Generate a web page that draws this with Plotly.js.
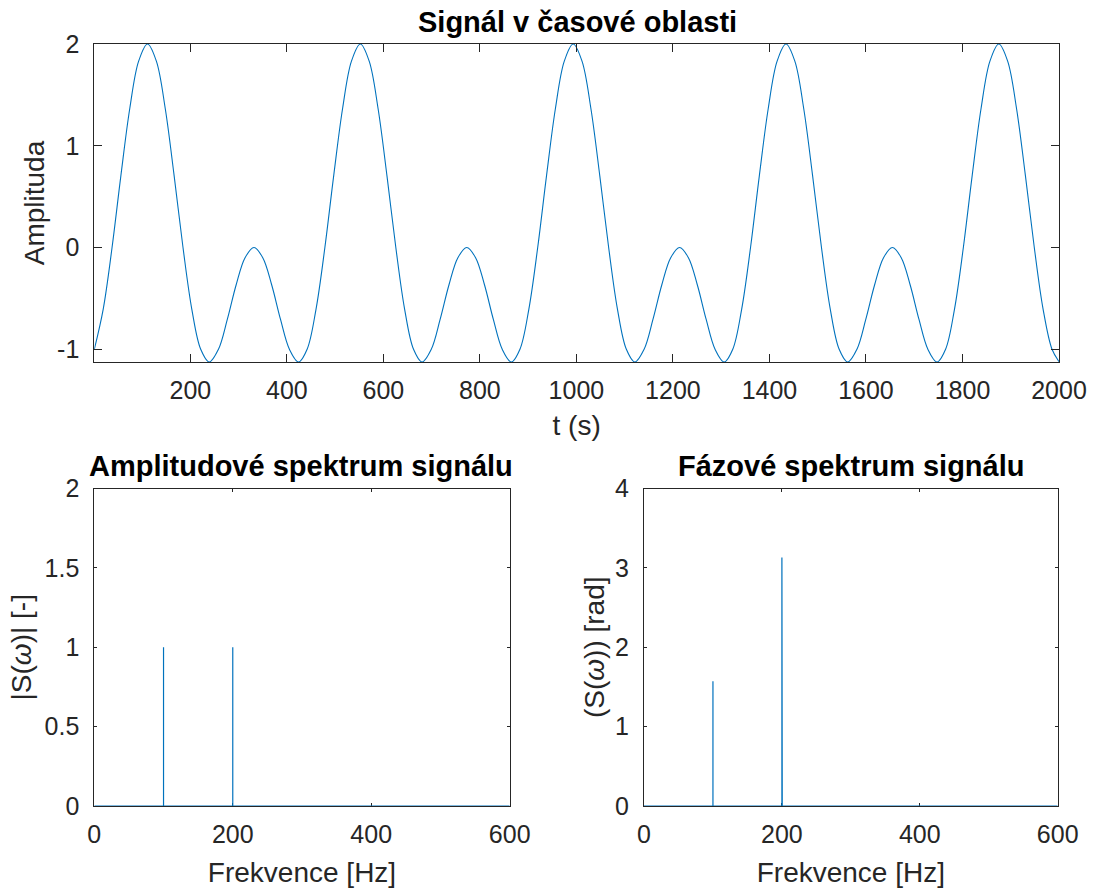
<!DOCTYPE html>
<html>
<head>
<meta charset="utf-8">
<script src="https://cdn.plot.ly/plotly-3.0.1.min.js"></script>
<style>
  html, body { margin: 0; padding: 0; background: #ffffff; }
  #chart { width: 1094px; height: 888px; }
</style>
</head>
<body>
<div id="chart"></div>
<script>
// ---- Time-domain signal (sample index t, amplitude) ----
const timeT = [
  1, 19.4, 37.8, 56.1, 74.5, 92.9, 111.3, 129.6, 148, 166.4, 184.8, 203.1, 221.5, 239.2, 258.3, 276.6, 295, 313.4, 331.8, 350.1, 368.5, 386.9, 405.3, 424.3,
  442, 460.4, 478.8, 497.1, 515.5, 533.9, 552.3, 570.6, 589, 607.4, 625.8, 644.1, 662.5, 680.2, 699.3, 717.6, 736, 754.4, 772.8, 791.1, 809.5, 827.9, 846.3, 865.3,
  883, 901.4, 919.8, 938.1, 956.5, 974.9, 993.3, 1011.6, 1030, 1048.4, 1066.8, 1085.1, 1103.5, 1121.2, 1140.3, 1158.6, 1177, 1195.4, 1213.8, 1232.1, 1250.5, 1268.9, 1287.3, 1306.3,
  1324, 1342.4, 1360.8, 1379.1, 1397.5, 1415.9, 1434.3, 1452.6, 1471, 1489.4, 1507.8, 1526.1, 1544.5, 1562.2, 1581.3, 1599.6, 1618, 1636.4, 1654.8, 1673.1, 1691.5, 1709.9, 1728.3, 1747.3,
  1765, 1783.4, 1801.8, 1820.1, 1838.5, 1856.9, 1875.3, 1893.6, 1912, 1930.4, 1948.8, 1967.1, 1985.5, 2000
];
const amplitude = [
  -1, -0.607, 0, 0.707, 1.366, 1.832, 2, 1.832, 1.366, 0.707, 0, -0.607, -1, -1.125, -1, -0.707, -0.366, -0.1, 0, -0.1, -0.366, -0.707, -1, -1.125,
  -1, -0.607, 0, 0.707, 1.366, 1.832, 2, 1.832, 1.366, 0.707, 0, -0.607, -1, -1.125, -1, -0.707, -0.366, -0.1, 0, -0.1, -0.366, -0.707, -1, -1.125,
  -1, -0.607, 0, 0.707, 1.366, 1.832, 2, 1.832, 1.366, 0.707, 0, -0.607, -1, -1.125, -1, -0.707, -0.366, -0.1, 0, -0.1, -0.366, -0.707, -1, -1.125,
  -1, -0.607, 0, 0.707, 1.366, 1.832, 2, 1.832, 1.366, 0.707, 0, -0.607, -1, -1.125, -1, -0.707, -0.366, -0.1, 0, -0.1, -0.366, -0.707, -1, -1.125,
  -1, -0.607, 0, 0.707, 1.366, 1.832, 2, 1.832, 1.366, 0.707, 0, -0.607, -1, -1.121
];

// ---- Amplitude spectrum ----
const ampFreq = [0, 100, 100, 100, 200, 200, 200, 600];
const ampMag  = [0, 0, 1, 0, 0, 1, 0, 0];

// ---- Phase spectrum ----
const phFreq  = [0, 100, 100, 100, 200, 200, 200, 200.5, 200.5, 600];
const phAngle = [0, 0, 1.571, 0, 0, 3.13, 3.13, 3.13, 0, 0];

// ---- Tick labels ----
const timeTicks = [200, 400, 600, 800, 1000, 1200, 1400, 1600, 1800, 2000];
const ampTicksTop = [-1, 0, 1, 2];
const ampTickTextTop = ['-1', '0', '1', '2'];
const freqTicks = [0, 200, 400, 600];
const magTicks = [0, 0.5, 1, 1.5, 2];
const magTickText = ['0', '0.5', '1', '1.5', '2'];
const phaseTicks = [0, 1, 2, 3, 4];

const LINE = '#0072BD';
const AX = '#262626';
const FONT = 'Liberation Sans, Arial, Helvetica, sans-serif';
const TICK_SIZE = 25;
const LABEL_SIZE = 28;
const TITLE_SIZE = 29;

function axisBase(extra) {
  return Object.assign({
    showline: true, linecolor: AX, linewidth: 1, mirror: 'ticks',
    ticks: 'inside', tickcolor: AX, tickwidth: 1,
    showgrid: false, zeroline: false,
    tickfont: { family: FONT, size: TICK_SIZE, color: AX },
    fixedrange: true
  }, extra);
}
function ttl(text, standoff) {
  return { text: text, font: { family: FONT, size: LABEL_SIZE, color: AX }, standoff: standoff };
}

const traces = [
  { x: timeT, y: amplitude, type: 'scatter', mode: 'lines',
    line: { color: LINE, width: 1.1, shape: 'spline', smoothing: 1 },
    xaxis: 'x', yaxis: 'y', hoverinfo: 'skip' },
  { x: ampFreq, y: ampMag, type: 'scatter', mode: 'lines',
    line: { color: LINE, width: 1.2 }, xaxis: 'x2', yaxis: 'y2', hoverinfo: 'skip' },
  { x: phFreq, y: phAngle, type: 'scatter', mode: 'lines',
    line: { color: LINE, width: 1.2 }, xaxis: 'x3', yaxis: 'y3', hoverinfo: 'skip' }
];

const layout = {
  width: 1094, height: 888,
  margin: { l: 0, r: 0, t: 0, b: 0 },
  paper_bgcolor: '#ffffff', plot_bgcolor: '#ffffff',
  showlegend: false,
  font: { family: FONT, color: AX },
  xaxis: axisBase({ domain: [94.3/1094, 1059/1094], anchor: 'y', range: [1, 2000],
    tickvals: timeTicks, ticklen: 8, ticklabelstandoff: 6,
    title: ttl('t (s)', 12) }),
  yaxis: axisBase({ domain: [1 - 362/888, 1 - 44/888], anchor: 'x', range: [-1.125, 2],
    tickvals: ampTicksTop, ticktext: ampTickTextTop, ticklen: 8, ticklabelstandoff: 9,
    title: ttl('Amplituda', 4) }),
  xaxis2: axisBase({ domain: [94.3/1094, 509.7/1094], anchor: 'y2', range: [0, 600],
    tickvals: freqTicks, ticklen: 3, ticklabelstandoff: 6, layer: 'below traces',
    title: ttl('Frekvence [Hz]', 15) }),
  yaxis2: axisBase({ domain: [1 - 806/888, 1 - 488.5/888], anchor: 'x2', range: [0, 2],
    tickvals: magTicks, ticktext: magTickText, ticklen: 3, ticklabelstandoff: 9, layer: 'below traces',
    title: ttl('|S(<i>ω</i>)| [-]', 4) }),
  xaxis3: axisBase({ domain: [644/1094, 1057.7/1094], anchor: 'y3', range: [0, 600],
    tickvals: freqTicks, ticklen: 3, ticklabelstandoff: 6, layer: 'below traces',
    title: ttl('Frekvence [Hz]', 15) }),
  yaxis3: axisBase({ domain: [1 - 806/888, 1 - 488.5/888], anchor: 'x3', range: [0, 4],
    tickvals: phaseTicks, ticklen: 3, ticklabelstandoff: 9, layer: 'below traces',
    title: ttl('(S(<i>ω</i>)) [rad]', 2) }),
  annotations: [
    { text: '<b>Signál v časové oblasti</b>', xref: 'paper', yref: 'paper',
      x: 577/1094, y: 1 - 22/888, xanchor: 'center', yanchor: 'middle', showarrow: false,
      font: { family: FONT, size: TITLE_SIZE, color: '#000000' } },
    { text: '<b>Amplitudové spektrum signálu</b>', xref: 'paper', yref: 'paper',
      x: 301/1094, y: 1 - 466/888, xanchor: 'center', yanchor: 'middle', showarrow: false,
      font: { family: FONT, size: TITLE_SIZE, color: '#000000' } },
    { text: '<b>Fázové spektrum signálu</b>', xref: 'paper', yref: 'paper',
      x: 851/1094, y: 1 - 466/888, xanchor: 'center', yanchor: 'middle', showarrow: false,
      font: { family: FONT, size: TITLE_SIZE, color: '#000000' } }
  ]
};

Plotly.newPlot('chart', traces, layout, { staticPlot: true, displayModeBar: false });
</script>
</body>
</html>
